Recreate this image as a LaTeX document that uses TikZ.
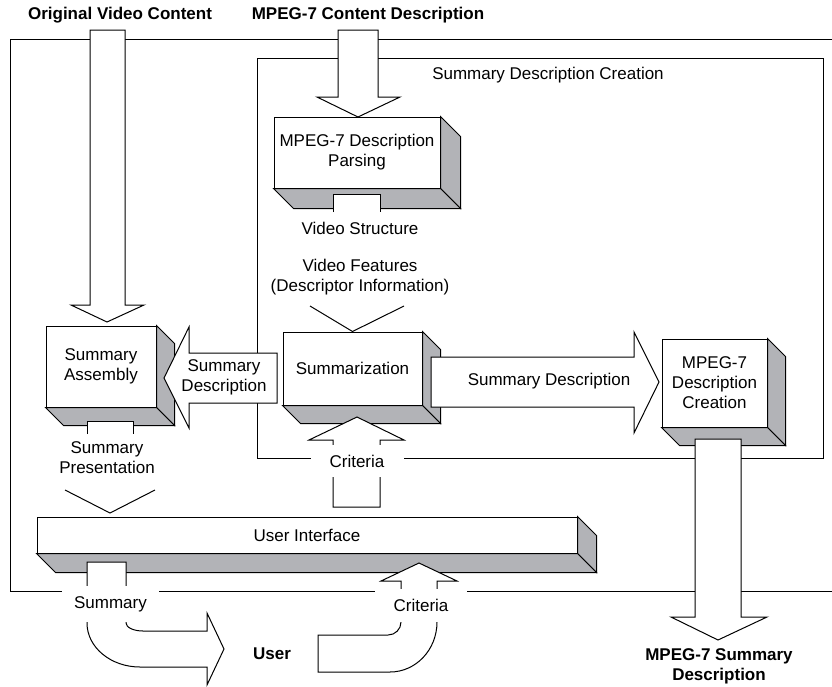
\documentclass[tikz,border=0pt]{standalone}
\usepackage{fontspec}
\setmainfont{Liberation Sans}
\usetikzlibrary{calc}
\definecolor{facegray}{RGB}{178,179,183}
\tikzset{
  line/.style={line width=1pt, draw=black, line join=miter},
  front/.style={line, fill=white, inner sep=0pt, align=center, font=\fontsize{17}{20}\selectfont},
  face/.style={line, fill=facegray},
  blockarrow/.style={line, fill=white},
  lbl/.style={font=\fontsize{17}{20}\selectfont, align=center, inner sep=0pt},
  titlelbl/.style={font=\bfseries\fontsize{17}{20}\selectfont, align=center, inner sep=0pt},
  gaplbl/.style={lbl, fill=white},
}
\newcommand\boxfaces[2]{%
  \path[face] (#1.north east) -- ++(#2,#2) -- ($(#1.south east)+(#2,#2)$) -- (#1.south east) -- cycle;
  \path[face] (#1.south west) -- (#1.south east) -- ($(#1.south east)+(#2,#2)$) -- ($(#1.south west)+(#2,#2)$) -- cycle;
}
\begin{document}
\begin{tikzpicture}[x=1pt,y=-1pt]
\useasboundingbox (0,0) rectangle (832,686);
% frames
\coordinate (otr) at (832,39);
\coordinate (otl) at (10,39);
\coordinate (obl) at (10,591);
\coordinate (obr) at (832,591);
\draw[line] (otr) -- (otl) -- (obl) -- (obr);
\draw[line] (257,58) rectangle (823,458);
\node[lbl] (sdc) at (548,75) {Summary Description Creation};
% titles
\node[titlelbl] (ovc) at (120,15) {Original Video Content};
\node[titlelbl] (mcd) at (368,15) {MPEG-7 Content Description};
% boxes
\node[front, minimum width=166pt, minimum height=71pt] (parse) at (357,152.5) {MPEG-7 Description\\Parsing};
\boxfaces{parse}{20}
\node[front, minimum width=139pt, minimum height=73pt] (summ) at (352.5,368.5) {Summarization};
\boxfaces{summ}{18}
\node[front, minimum width=110pt, minimum height=81pt] (assem) at (101,366.5) {Summary\\Assembly};
\boxfaces{assem}{18}
\node[front, minimum width=105pt, minimum height=88pt] (create) at (714.5,383) {MPEG-7\\Description\\Creation};
\boxfaces{create}{18}
\node[front, minimum width=540pt, minimum height=36pt] (ui) at (307,535) {User Interface};
\boxfaces{ui}{19}
% tabs (output stubs)
\filldraw[line, fill=white] (333,212) -- (333,194) -- (380,194) -- (380,212);
\filldraw[line, fill=white] (87,434) -- (87,421) -- (133,421) -- (133,434);
% labels
\node[lbl] (vs) at (360,228) {Video Structure};
\node[lbl] (vf) at (360,277.5) {Video Features\\(Descriptor Information)};
\node[lbl] (sp) at (107,457.5) {Summary\\Presentation};
% open chevrons
\draw[line] (310,306) -- (summ.north) -- (404,306);
\draw[line] (65,490) -- (110,513) -- (155,490);
% block arrows from top
\path[blockarrow] (90,30) -- (125,30) -- (125,305) -- (144,305) -- (107,322) -- (71,305) -- (90,305) -- cycle;
\path[blockarrow] (338,30) -- (378,30) -- (378,97) -- (400,97) -- (358,117) -- (317,97) -- (338,97) -- cycle;
% summary description (left)
\path[blockarrow] (277,353) -- (189,353) -- (189,327) -- (164,378) -- (189,428) -- (189,403) -- (277,403) -- cycle;
\node[lbl] (sd1) at (224,377.5) {Summary\\Description};
% summary description (right)
\path[blockarrow] (431,357) -- (634,357) -- (634,332) -- (659,382) -- (634,433) -- (634,407) -- (431,407) -- cycle;
\node[lbl] (sd2) at (549,381) {Summary Description};
% criteria into summarization
\path[blockarrow] (333,507) -- (333,440) -- (309,440) -- (357,417) -- (404,440) -- (380,440) -- (380,507) -- cycle;
\node[gaplbl, minimum width=93pt, minimum height=32pt] (crit1) at (357,461) {Criteria};
% MPEG-7 summary output
\path[blockarrow] (695,439) -- (741,439) -- (741,617) -- (767,617) -- (718,640) -- (671,617) -- (695,617) -- cycle;
\node[titlelbl] (msd) at (719,666) {MPEG-7 Summary\\Description};
% summary to user
\path[blockarrow] (87,562) -- (87,623) arc[start angle=180, end angle=90, x radius=53, y radius=44] -- (207,667) -- (207,685) -- (224,649) -- (207,613) -- (207,631) -- (143,631) arc[start angle=90, end angle=180, x radius=17, y radius=8] -- (126,562) -- cycle;
\node[gaplbl, minimum width=97pt, minimum height=36pt] (summout) at (110.5,604) {Summary};
% criteria from user
\path[blockarrow] (401,581) -- (381,581) -- (419,563) -- (457,581) -- (437,581) -- (437,622) arc[start angle=0, end angle=90, x radius=47, y radius=50] -- (318,672) -- (318,635) -- (388,635) arc[start angle=90, end angle=0, x radius=13, y radius=13] -- cycle;
\node[gaplbl, minimum width=92pt, minimum height=33pt] (crit2) at (421,605.5) {Criteria};
\node[titlelbl] (user) at (272,654) {User};
\end{tikzpicture}
\end{document}
